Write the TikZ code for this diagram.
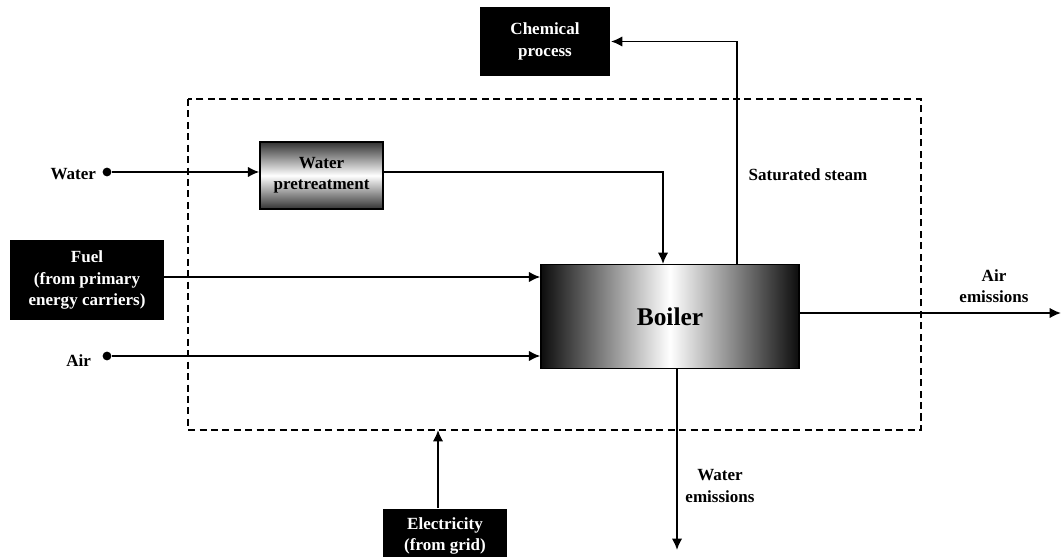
\documentclass[tikz,border=0pt]{standalone}
\usepackage{fontspec}
\setmainfont{Liberation Serif}
\usetikzlibrary{arrows.meta}

\begin{document}
\begin{tikzpicture}[x=0.02cm,y=-0.02cm,>={Latex[length=6.5pt,width=6pt]},line width=1.1pt,
    every node/.style={font=\fontsize{9.7}{12.1}\selectfont\bfseries,align=center},
    blk/.style={fill=black,text=white,inner sep=0pt},
    lbl/.style={inner sep=0pt},
    src/.style={circle,fill=black,inner sep=0pt,minimum size=5pt}]
        \useasboundingbox (0,0) rectangle (1061,557);
        \draw[line width=0.8pt,dash pattern=on 4pt off 2.5pt] (188,99) rectangle (921,430);
        \node[blk,minimum width=2.6cm,minimum height=1.38cm] (chem) at (545,41.5) {Chemical\\process};
        \node[draw,line width=0.8pt,inner sep=0pt,minimum width=2.46cm,minimum height=1.34cm,
              top color=black!80,bottom color=black!80,middle color=white] (pre) at (321.5,175.5) {Water\\pretreatment};
        \node[draw,line width=0.8pt,inner sep=0pt,minimum width=5.16cm,minimum height=2.08cm,
              left color=black!95,right color=black!95,middle color=white,
              font=\fontsize{14.5}{17}\selectfont\bfseries] (boiler) at (670,316.5) {Boiler};
        \node[blk,minimum width=3.08cm,minimum height=1.62cm] (fuel) at (87,280) {Fuel\\(from primary\\energy carriers)};
        \node[blk,minimum width=2.48cm,minimum height=1.08cm] (elec) at (445,536) {Electricity\\(from grid)};
        \node[src] (wdot) at (107,172) {};
        \node[src] (adot) at (107,356) {};
        \node[lbl,anchor=east] (wlab) at (97,174) {Water};
        \node[lbl,anchor=east] (alab) at (92,361) {Air};
        \node[lbl] (steam) at (808,175) {Saturated steam};
        \node[lbl] (aemi) at (994,286) {Air\\emissions};
        \node[lbl] (wemi) at (720,486) {Water\\emissions};
        \coordinate (bw) at (663,264);
        \coordinate (bs) at (737,264);
        \coordinate (fin) at (164,277);
        \coordinate (aout) at (1061,313);
        \coordinate (wout) at (677,550);
        \coordinate (ein) at (438,430);
        \draw[->] (wdot) -- (wdot -| pre.west);
        \draw[->] (pre.east |- wdot) -| (bw);
        \draw[->] (bs) |- (chem.east);
        \draw[->] (fin) -- (fin -| boiler.west);
        \draw[->] (adot) -- (adot -| boiler.west);
        \draw[->] (boiler.east |- aout) -- (aout);
        \draw[->] (boiler.south -| wout) -- (wout);
        \draw[->] (ein |- elec.north) -- (ein);
\end{tikzpicture}
\end{document}
